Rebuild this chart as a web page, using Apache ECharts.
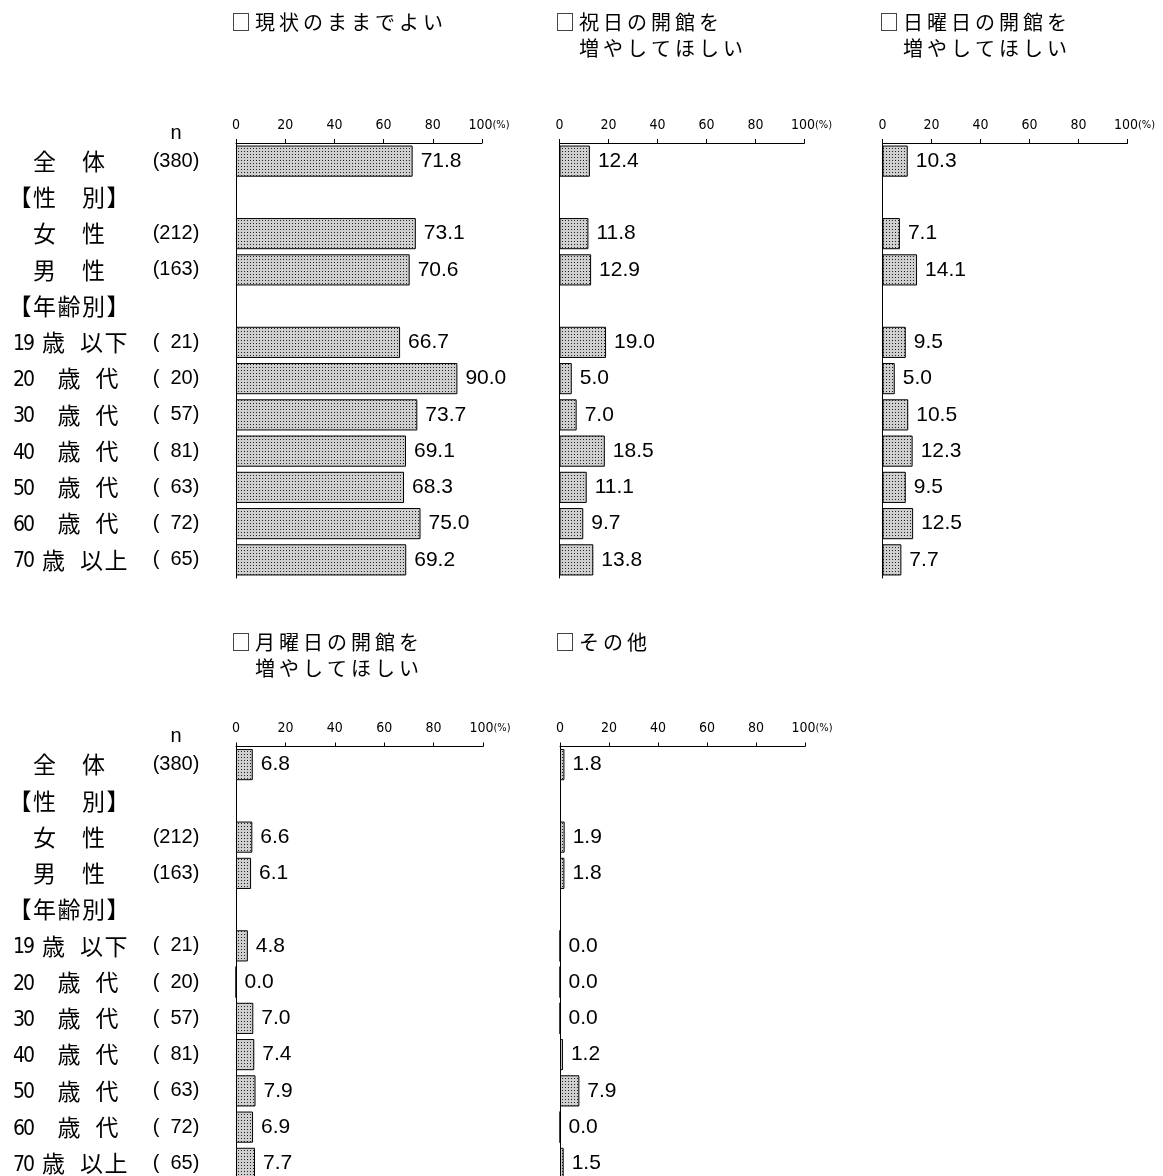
<!DOCTYPE html>
<html>
<head>
  <meta charset="utf-8">
  <script src="https://cdn.jsdelivr.net/npm/echarts@6/dist/echarts.min.js"></script>
  <style>
    html, body { margin: 0; padding: 0; background: #fff; overflow: hidden; }
  </style>
</head>
<body>
<div id="main" style="width: 1163px; height: 1200px"></div>
<script>
  // row labels (spacing kept as in the printed table)
  const categories = ['　全　体', '【性　別】', '　女　性', '　男　性', '【年齢別】',
    ' 19  歳   以下', ' 20　歳   代', ' 30　歳   代', ' 40　歳   代',
    ' 50　歳   代', ' 60　歳   代', ' 70  歳   以上'];
  const sampleSizes = [380, null, 212, 163, null, 21, 20, 57, 81, 63, 72, 65];

  const panelTitles = [
    '□現状のままでよい',
    '□祝日の開館を\n　増やしてほしい',
    '□日曜日の開館を\n　増やしてほしい',
    '□月曜日の開館を\n　増やしてほしい',
    '□その他'
  ];

  const keepAsIs     = [71.8, null, 73.1, 70.6, null, 66.7, 90.0, 73.7, 69.1, 68.3, 75.0, 69.2];
  const moreHolidays = [12.4, null, 11.8, 12.9, null, 19.0, 5.0, 7.0, 18.5, 11.1, 9.7, 13.8];
  const moreSundays  = [10.3, null, 7.1, 14.1, null, 9.5, 5.0, 10.5, 12.3, 9.5, 12.5, 7.7];
  const moreMondays  = [6.8, null, 6.6, 6.1, null, 4.8, 0.0, 7.0, 7.4, 7.9, 6.9, 7.7];
  const others       = [1.8, null, 1.9, 1.8, null, 0.0, 0.0, 0.0, 1.2, 7.9, 0.0, 1.5];

  const axisMax = 100;
  const tickStep = 20;

  const CJK = '"Noto Sans CJK JP", sans-serif';
  const SANS = '"Liberation Sans", Arial, sans-serif';
  const NARROW = '"Liberation Sans Narrow", "DejaVu Sans Condensed", "Liberation Sans", sans-serif';

  const ROW_H = 36.25;
  const panels = [
    {title: panelTitles[0], data: keepAsIs,     left: 236,   top: 143,   width: 246, names: true,  tLeft: 231, tTop: 9},
    {title: panelTitles[1], data: moreHolidays, left: 559.5, top: 143,   width: 245, names: false, tLeft: 555, tTop: 9},
    {title: panelTitles[2], data: moreSundays,  left: 882.5, top: 143,   width: 245, names: false, tLeft: 879, tTop: 9},
    {title: panelTitles[3], data: moreMondays,  left: 236,   top: 746.5, width: 247, names: true,  tLeft: 231, tTop: 629},
    {title: panelTitles[4], data: others,       left: 560,   top: 746.5, width: 245, names: false, tLeft: 555, tTop: 629}
  ];

  // split text into fixed-width cells so the label spacing looks like the printed table
  function cells(str) {
    return str.split('\n').map(line => Array.from(line).map(ch => {
      if (ch === ' ') return '{s| }';
      if (/[0-9]/.test(ch)) return '{d|' + ch + '}';
      return '{f|' + ch + '}';
    }).join('')).join('\n');
  }

  function dotPattern() {
    const c = document.createElement('canvas');
    c.width = 3; c.height = 3;
    const ctx = c.getContext('2d');
    ctx.fillStyle = '#cfcfcf';
    ctx.fillRect(0, 0, 3, 3);
    ctx.fillStyle = '#222';
    ctx.fillRect(1, 1, 1, 1);
    return c;
  }
  const fill = {image: dotPattern(), repeat: 'repeat'};

  const nameRich = {
    f: {width: 24.5, align: 'left', fontSize: 23, fontFamily: CJK, color: '#000'},
    d: {width: 10, align: 'left', fontSize: 21, fontFamily: NARROW, color: '#000', padding: [4, 0, 0, 0]},
    s: {width: 4.5, align: 'left', fontSize: 20, color: '#000'}
  };
  const titleRich = {
    f: {width: 24, align: 'left', fontSize: 20, lineHeight: 26, fontFamily: CJK, color: '#000'},
    d: {width: 11, align: 'left', fontSize: 20, lineHeight: 26, fontFamily: SANS, color: '#000'},
    s: {width: 6, align: 'left', fontSize: 20, lineHeight: 26, color: '#000'}
  };

  const grids = [], xAxes = [], yAxes = [], series = [], titles = [];
  panels.forEach((p, i) => {
    grids.push({left: p.left, top: p.top, width: p.width, height: ROW_H * categories.length});
    titles.push({
      left: p.tLeft, top: p.tTop, padding: 0,
      text: cells(p.title),
      textStyle: {fontWeight: 'normal', fontSize: 20, lineHeight: 26, rich: titleRich}
    });
    xAxes.push({
      gridIndex: i, type: 'value', position: 'top',
      min: 0, max: axisMax, interval: tickStep,
      splitLine: {show: false},
      axisLine: {show: true, lineStyle: {color: '#000', width: 1}},
      axisTick: {show: true, length: 4, lineStyle: {color: '#000'}},
      axisLabel: {
        margin: 11, color: '#000', fontFamily: NARROW, fontSize: 14,
        formatter: v => v === axisMax ? '{pad| }' + v + '{u|(%)}' : String(v),
        rich: {
          pad: {width: 14},
          u: {fontSize: 11, fontFamily: NARROW, color: '#000'}
        }
      }
    });
    const yIdx = yAxes.length;
    yAxes.push({
      gridIndex: i, type: 'category', position: 'left', inverse: true, data: categories,
      axisLine: {show: true, lineStyle: {color: '#000', width: 1}},
      axisTick: {show: false},
      axisLabel: p.names ? {
        interval: 0, align: 'left', margin: p.left - 8.5,
        formatter: v => cells(v), rich: nameRich
      } : {show: false}
    });
    if (p.names) {
      yAxes.push({
        gridIndex: i, type: 'category', position: 'left', inverse: true, data: categories,
        offset: 60,
        name: 'n', nameLocation: 'start', nameGap: 0,
        nameTextStyle: {fontFamily: SANS, fontSize: 20, color: '#000'},
        axisLine: {show: false}, axisTick: {show: false},
        axisLabel: {
          interval: 0, align: 'center', margin: 0,
          fontFamily: SANS, fontSize: 20, color: '#000',
          formatter: (v, idx) => {
            const n = sampleSizes[idx];
            if (n == null) return '';
            return '(' + (n < 100 ? '  ' : '') + n + ')';
          }
        }
      });
    }
    series.push({
      type: 'bar', xAxisIndex: i, yAxisIndex: yIdx,
      data: p.data,
      barCategoryGap: '14%',
      itemStyle: {color: fill, borderColor: '#000', borderWidth: 1},
      label: {
        show: true, position: 'right', distance: 8,
        color: '#000', fontFamily: SANS, fontSize: 21,
        formatter: d => d.value == null ? '' : d.value.toFixed(1)
      },
      emphasis: {disabled: true}
    });
  });

  const myChart = echarts.init(document.getElementById('main'));
  myChart.setOption({
    animation: false,
    backgroundColor: '#fff',
    title: titles,
    grid: grids,
    xAxis: xAxes,
    yAxis: yAxes,
    series: series
  });
</script>
</body>
</html>
